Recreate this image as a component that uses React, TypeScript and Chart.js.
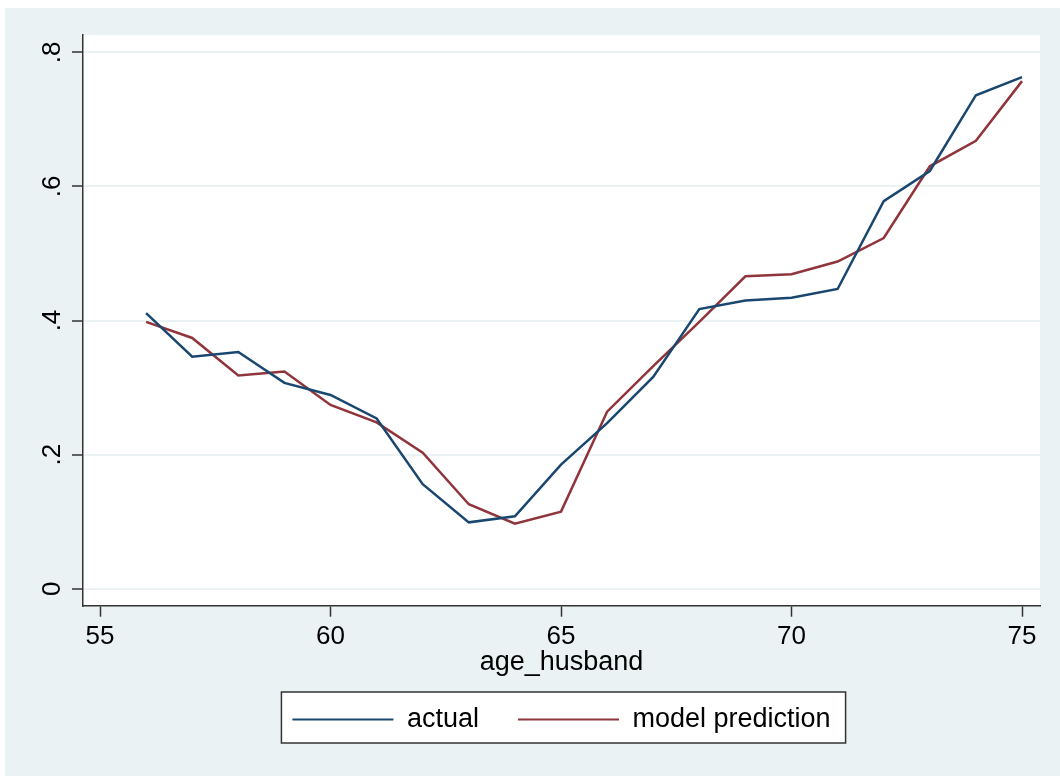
import { useEffect, useRef } from "react";
import { Chart, registerables } from "chart.js";

Chart.register(...registerables);

// Husband's age (x) and share observed / predicted (y)
const ages = [56, 57, 58, 59, 60, 61, 62, 63, 64, 65, 66, 67, 68, 69, 70, 71, 72, 73, 74, 75];
const actual = [
  0.411, 0.346, 0.353, 0.307, 0.289, 0.254, 0.156, 0.099, 0.108, 0.185,
  0.247, 0.316, 0.417, 0.430, 0.434, 0.447, 0.578, 0.623, 0.736, 0.763,
];
const prediction = [
  0.398, 0.374, 0.318, 0.324, 0.274, 0.248, 0.203, 0.126, 0.097, 0.115,
  0.264, 0.332, 0.398, 0.466, 0.469, 0.488, 0.523, 0.630, 0.668, 0.757,
];
const seriesNames = ["actual", "model prediction"];
const xTickValues = [55, 60, 65, 70, 75];
const yTickValues = [0, 0.2, 0.4, 0.6, 0.8];
const yTickLabels = ["0", ".2", ".4", ".6", ".8"];
const xTitle = "age_husband";

const PAGE_BG = "#EAF2F3";
const INK = "#000000";
const AXIS = "#333333";
const NAVY = "#1A476F";
const MAROON = "#90353B";
const FONT = "'Liberation Sans', Arial, Helvetica, sans-serif";

// Paints the outer panel, the white plot region and the framed legend box.
const backdrop = {
  id: "backdrop",
  beforeDraw(chart: any) {
    const { ctx, chartArea: a, width, height } = chart;
    ctx.save();
    ctx.fillStyle = PAGE_BG;
    ctx.fillRect(0, 0, width, height);
    ctx.fillStyle = "#ffffff";
    ctx.fillRect(a.left, a.top, a.right - a.left, a.bottom - a.top);
    const boxes = chart.legend && chart.legend.legendHitBoxes;
    if (boxes && boxes.length) {
      const left = Math.min(...boxes.map((b: any) => b.left)) - 11;
      const right = Math.max(...boxes.map((b: any) => b.left + b.width)) + 15;
      const mid = boxes[0].top + boxes[0].height / 2;
      const top = mid - 27.5;
      const bottom = mid + 23.5;
      ctx.fillStyle = "#ffffff";
      ctx.fillRect(left, top, right - left, bottom - top);
      ctx.strokeStyle = AXIS;
      ctx.lineWidth = 1.5;
      ctx.strokeRect(left, top, right - left, bottom - top);
    }
    ctx.restore();
  },
};

export default function App() {
  const canvasRef = useRef<HTMLCanvasElement | null>(null);

  useEffect(() => {
    const canvas = canvasRef.current;
    if (!canvas) return;
    const font = { family: FONT, size: 26 };
    const bigFont = { family: FONT, size: 27 };
    const chart = new Chart(canvas, {
      type: "line",
      data: {
        datasets: [
          {
            label: seriesNames[0],
            data: ages.map((x, i) => ({ x, y: actual[i] })),
            borderColor: NAVY,
            backgroundColor: NAVY,
            borderWidth: 2.5,
            pointRadius: 0,
            tension: 0,
            fill: false,
          },
          {
            label: seriesNames[1],
            data: ages.map((x, i) => ({ x, y: prediction[i] })),
            borderColor: MAROON,
            backgroundColor: MAROON,
            borderWidth: 2.5,
            pointRadius: 0,
            tension: 0,
            fill: false,
          },
        ],
      },
      options: {
        animation: false,
        responsive: false,
        devicePixelRatio: 1,
        layout: { padding: { top: 27, right: 20, left: 0, bottom: 33 } },
        scales: {
          x: {
            type: "linear",
            min: 54.631,
            max: 75.39,
            afterBuildTicks: (s: any) => {
              s.ticks = xTickValues.map((value) => ({ value }));
            },
            afterFit: (s: any) => {
              s.height = 61.3;
            },
            ticks: { padding: 5, color: INK, font, autoSkip: false, maxRotation: 0 },
            grid: {
              drawOnChartArea: false,
              tickLength: 11,
              tickColor: AXIS,
              tickWidth: 1.5,
              color: AXIS,
            },
            border: { display: true, color: AXIS, width: 1.5 },
            title: {
              display: true,
              text: xTitle,
              color: INK,
              font: bigFont,
              padding: { top: 0, bottom: -11.6 },
            },
          },
          y: {
            type: "linear",
            min: -0.0253,
            max: 0.8258,
            afterBuildTicks: (s: any) => {
              s.ticks = yTickValues.map((value) => ({ value }));
            },
            afterFit: (s: any) => {
              s.width = 78;
            },
            ticks: {
              callback: (_v: any, i: number) => yTickLabels[i],
              minRotation: 90,
              maxRotation: 90,
              crossAlign: "center",
              padding: 8,
              color: INK,
              font,
              autoSkip: false,
            },
            grid: {
              color: PAGE_BG,
              lineWidth: 2,
              tickLength: 11,
              tickColor: AXIS,
              tickWidth: 1.5,
            },
            border: { display: true, color: AXIS, width: 1.5 },
          },
        },
        plugins: {
          tooltip: { enabled: false },
          legend: {
            position: "bottom",
            fullSize: false,
            align: "center",
            labels: {
              boxWidth: 101,
              boxHeight: 2,
              padding: 39,
              color: INK,
              font: bigFont,
              generateLabels: (c: any) =>
                (Chart.defaults.plugins.legend.labels as any)
                  .generateLabels(c)
                  .map((l: any) => ({ ...l, lineWidth: 0 })),
            },
          },
        },
      } as any,
      plugins: [backdrop],
    });
    return () => chart.destroy();
  }, []);

  return (
    <div style={{ position: "fixed", left: 5, top: 8, width: 1055, height: 768 }}>
      <canvas ref={canvasRef} width={1055} height={768} style={{ display: "block" }} />
    </div>
  );
}
